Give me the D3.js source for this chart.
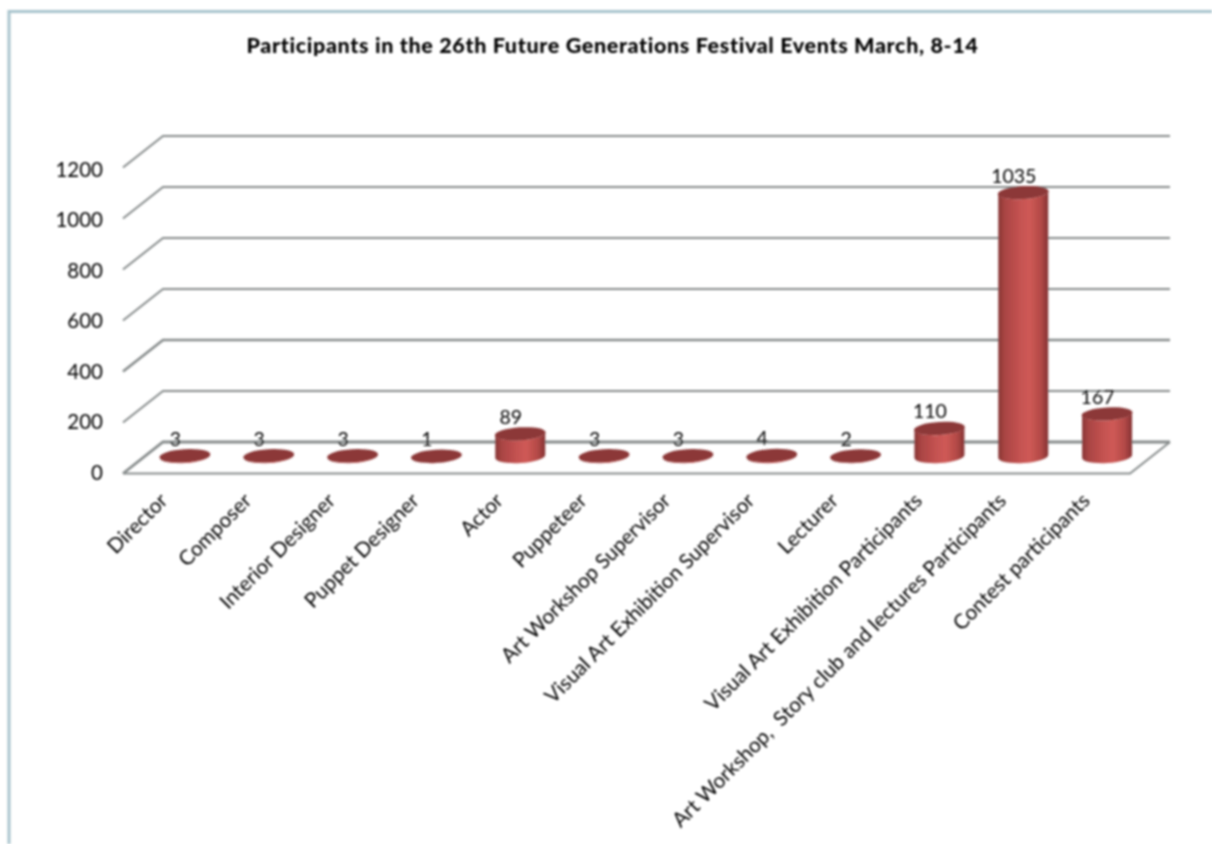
<!DOCTYPE html>
<html><head><meta charset="utf-8">
<script src="https://cdn.jsdelivr.net/npm/d3@7"></script>
<style>html,body{margin:0;padding:0;background:#fff;overflow:hidden}svg{display:block}text{white-space:pre}</style>
</head><body><svg id="c" width="1212" height="844"></svg>
<script>
const categories = ["Director","Composer","Interior Designer","Puppet Designer","Actor","Puppeteer","Art Workshop Supervisor","Visual Art Exhibition Supervisor","Lecturer","Visual Art Exhibition Participants","Art Workshop,  Story club and lectures Participants","Contest participants"];
const participants = [3,3,3,1,89,3,3,4,2,110,1035,167];
const yTicks = [0,200,400,600,800,1000,1200];
const titleText = "Participants in the 26th Future Generations Festival Events March, 8-14";

const font = "Lato, Carlito, 'Open Sans', sans-serif";
const svg = d3.select("#c");
const defs = svg.append("defs");
const blur = defs.append("filter").attr("id","soft").attr("x","-5%").attr("y","-5%").attr("width","110%").attr("height","110%");
blur.append("feGaussianBlur").attr("stdDeviation",0.8);
const grad = defs.append("linearGradient").attr("id","cyl");
[[0,"#863434"],[0.12,"#a84443"],[0.4,"#c25150"],[0.62,"#cf5a56"],[0.85,"#b34947"],[1,"#843333"]]
  .forEach(([o,c])=>grad.append("stop").attr("offset",o).attr("stop-color",c));

const root = svg.append("g").attr("filter","url(#soft)");

// window frame
root.append("path").attr("d","M9,844V11.5H1212").attr("fill","none").attr("stroke","#a9c4cd").attr("stroke-width",3);

root.append("text").attr("x",612.5).attr("y",53).attr("text-anchor","middle")
  .attr("font-family",font).attr("font-weight",900).attr("font-size",21.5).attr("letter-spacing",0.64).attr("fill","#000").text(titleText);

// scales: back wall coordinates
const y = d3.scaleLinear().domain([0,1200]).range([442,136]);
const barY = d3.scaleLinear().domain([0,1200]).range([456.5,150.5]);
const labelY = d3.scaleLinear().domain([0,1200]).range([480,176.5]);
const x = d3.scaleBand().domain(categories).range([143,1149]).paddingInner(0).paddingOuter(0);
const depthX = 40, depthY = 31.5;
const backL = 163, backR = 1170;

const grid = root.append("g").attr("fill","none").attr("stroke","#868b8b");
grid.selectAll("path.wall").data(yTicks).join("path").attr("class","wall")
  .attr("stroke-width",d=>d===0?2.8:(d===400?2.6:2))
  .attr("d",d=>`M${backL-depthX},${y(d)+depthY}L${backL},${y(d)}H${backR}`);
grid.append("path").attr("stroke-width",2)
  .attr("d",`M${backL-depthX},${y(0)+depthY}H${backR-depthX}L${backR},${y(0)}`);

// value axis labels
root.append("g").selectAll("text").data(yTicks).join("text")
  .attr("x",103).attr("y",d=>labelY(d)).attr("text-anchor","end")
  .attr("font-family",font).attr("font-size",20.5).attr("fill","#000").text(d=>d3.format("d")(d));

// cylinders
const rx = 25, ry = 6.5, tilt = -3.5, lift = rx*Math.tan(-tilt*Math.PI/180);
const rows = categories.map((c,i)=>({c,v:participants[i]}));
const bars = root.append("g").selectAll("g").data(rows).join("g")
  .attr("transform",d=>`translate(${x(d.c)+x.bandwidth()/2},0)`);
bars.append("path").attr("fill","url(#cyl)")
  .attr("d",d=>{const b=barY(0),t=barY(d.v);
    return `M${-rx},${t+lift}L${-rx},${b+lift}A${rx},${ry} ${tilt} 0 0 ${rx},${b-lift}L${rx},${t-lift}A${rx},${ry} ${tilt} 0 1 ${-rx},${t+lift}Z`;});
bars.append("ellipse").attr("rx",rx+.5).attr("ry",ry).attr("fill","#8c3838")
  .attr("transform",d=>`translate(0,${barY(d.v)}) rotate(${tilt})`);

// data labels
bars.append("text").attr("x",-9.5).attr("y",d=>barY(d.v)-10).attr("text-anchor","middle")
  .attr("font-family",font).attr("font-size",19.5).attr("fill","#000").text(d=>d.v);

// category labels
root.append("g").selectAll("text").data(rows).join("text")
  .attr("transform",d=>`translate(${x(d.c)+x.bandwidth()/2-16},${502}) rotate(-45)`)
  .attr("text-anchor","end").attr("font-family",font).attr("font-size",20.7).attr("fill","#000").text(d=>d.c);
</script></body></html>
